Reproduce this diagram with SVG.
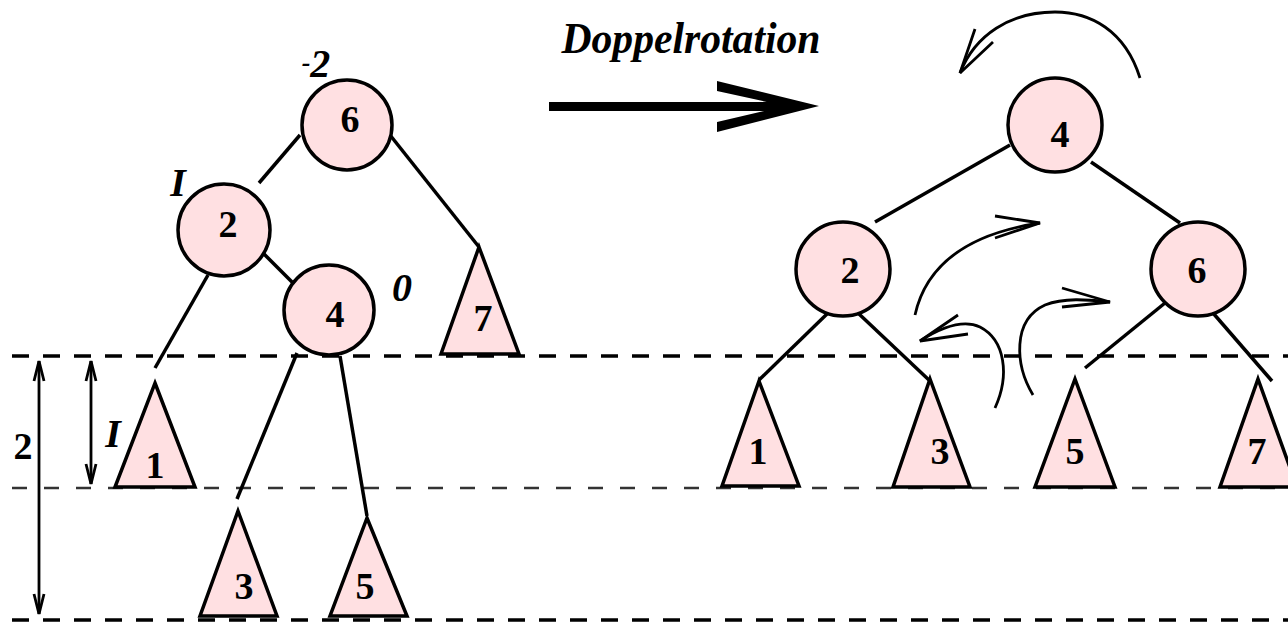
<svg xmlns="http://www.w3.org/2000/svg" width="1288" height="622" viewBox="0 0 1288 622">
<style>
.nd{fill:#FFE0E2;stroke:#000;stroke-width:3.5}
.tr{fill:#FFE0E2;stroke:#000;stroke-width:3.5;stroke-linejoin:miter}
.lb{font-family:"Liberation Serif",serif;font-weight:bold;font-size:38px;fill:#000;text-anchor:middle}
.it{font-family:"Liberation Serif",serif;font-weight:bold;font-style:italic;font-size:40px;fill:#000;text-anchor:middle}
.ed{stroke:#000;stroke-width:3.5;fill:none;stroke-linecap:butt}
.cv{stroke:#000;stroke-width:2.8;fill:none}
.dk{stroke:#000;stroke-width:3.5;stroke-dasharray:17 14;fill:none}
.dt{stroke:#333;stroke-width:2.5;stroke-dasharray:15 17;fill:none}
.dim{stroke:#000;stroke-width:2.8;fill:none}
</style>
<rect width="1288" height="622" fill="#fff"/>

<g id="levels">
<line class="dk" x1="12" y1="356" x2="1288" y2="356"/>
<line class="dt" x1="12" y1="488" x2="1288" y2="488"/>
<line class="dk" x1="12" y1="620" x2="1288" y2="620"/>
</g>

<g id="connectors">
<line class="ed" x1="300" y1="135" x2="259" y2="183"/>
<line class="ed" x1="390" y1="135" x2="479" y2="247"/>
<line class="ed" x1="263" y1="253" x2="298" y2="288"/>
<line class="ed" x1="208" y1="275" x2="155" y2="368"/>
<line class="ed" x1="297" y1="353" x2="237" y2="499"/>
<line class="ed" x1="340" y1="356" x2="367" y2="516"/>
<line class="ed" x1="1010" y1="145" x2="875" y2="222"/>
<line class="ed" x1="1091" y1="162" x2="1180" y2="223"/>
<line class="ed" x1="828" y1="313" x2="759" y2="380"/>
<line class="ed" x1="858" y1="313" x2="930" y2="381"/>
<line class="ed" x1="1165" y1="303" x2="1085" y2="368"/>
<line class="ed" x1="1213" y1="313" x2="1272" y2="381"/>
</g>

<g id="dimensions">
<line class="dim" x1="39" y1="361" x2="39" y2="614"/>
<path class="dim" d="M34,381 L39,361 L44,381 M34,594 L39,614 L44,594"/>
<line class="dim" x1="91" y1="361" x2="91" y2="484"/>
<path class="dim" d="M86,381 L91,361 L96,381 M86,464 L91,484 L96,464"/>
<text class="lb" x="23" y="459">2</text>
<text class="it" x="113" y="447">I</text>
</g>

<g id="left-n6">
<circle class="nd" cx="347" cy="125" r="45"/>
<text class="lb" x="350" y="132">6</text>
<text class="it" x="316" y="77"><tspan dy="-6" font-size="26">-</tspan><tspan dy="6">2</tspan></text>
</g>
<g id="left-n2">
<circle class="nd" cx="224" cy="230" r="46"/>
<text class="lb" x="228" y="237">2</text>
<text class="it" x="178" y="196">I</text>
</g>
<g id="left-n4">
<circle class="nd" cx="329" cy="310" r="45"/>
<text class="lb" x="335" y="327">4</text>
<text class="it" x="402" y="301">0</text>
</g>
<g id="left-t7">
<polygon class="tr" points="479,247 519,354 441,354"/>
<text class="lb" x="483" y="331">7</text>
</g>
<g id="left-t1">
<polygon class="tr" points="155,383 195,487 115,487"/>
<text class="lb" x="155" y="478">1</text>
</g>
<g id="left-t3">
<polygon class="tr" points="238,511 277,616 200,616"/>
<text class="lb" x="244" y="599">3</text>
</g>
<g id="left-t5">
<polygon class="tr" points="367,518 407,616 330,616"/>
<text class="lb" x="365" y="599">5</text>
</g>

<g id="transition">
<text x="691" y="53" font-family="'Liberation Serif',serif" font-weight="bold" font-style="italic" font-size="44" textLength="259" lengthAdjust="spacingAndGlyphs" text-anchor="middle">Doppelrotation</text>
<rect x="549" y="102" width="250" height="9" fill="#000"/>
<path d="M717,81 L819,106 L717,132 L717,122 L785,106 L717,91 Z" fill="#000"/>
</g>

<g id="right-n4">
<circle class="nd" cx="1055" cy="125" r="47"/>
<text class="lb" x="1060" y="147">4</text>
</g>
<g id="right-n2">
<circle class="nd" cx="843" cy="269" r="47"/>
<text class="lb" x="850" y="283">2</text>
</g>
<g id="right-n6">
<circle class="nd" cx="1198" cy="269" r="47"/>
<text class="lb" x="1197" y="283">6</text>
</g>
<g id="right-t1">
<polygon class="tr" points="759,381 799,486 722,486"/>
<text class="lb" x="758" y="464">1</text>
</g>
<g id="right-t3">
<polygon class="tr" points="930,379 970,487 893,487"/>
<text class="lb" x="940" y="464">3</text>
</g>
<g id="right-t5">
<polygon class="tr" points="1075,379 1115,487 1035,487"/>
<text class="lb" x="1075" y="464">5</text>
</g>
<g id="right-t7">
<polygon class="tr" points="1258,379 1297,487 1220,487"/>
<text class="lb" x="1257" y="464">7</text>
</g>

<g id="rotation-arrows">
<path class="cv" d="M1140,78 C1125,30 1090,12 1055,12 C1010,12 975,35 960,73"/>
<path class="cv" d="M975,29 L960,73 L993,42"/>
<path class="cv" d="M915,315 C925,270 960,235 1040,223"/>
<path class="cv" d="M995,216 L1040,223 L995,238"/>
<path class="cv" d="M1033,395 C1015,365 1012,320 1045,305 C1065,297 1090,300 1110,302"/>
<path class="cv" d="M1062,288 L1110,302 L1062,307"/>
<path class="cv" d="M995,408 C1010,375 1005,340 980,327 C965,320 945,325 920,341"/>
<path class="cv" d="M958,315 L920,341 L968,334"/>
</g>
</svg>
